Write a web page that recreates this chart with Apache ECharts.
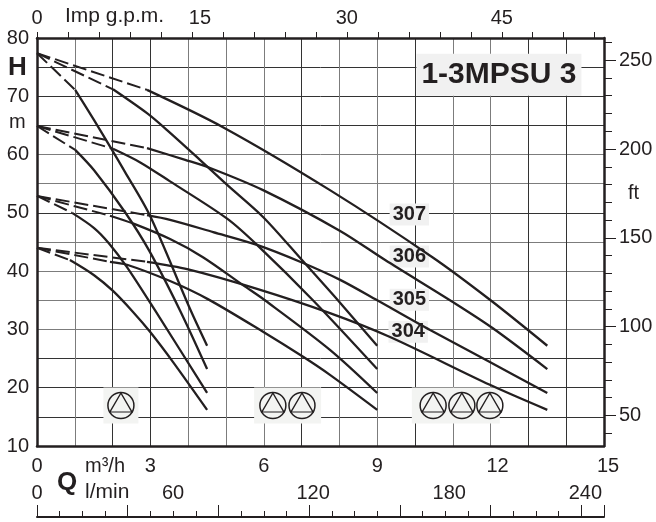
<!DOCTYPE html>
<html>
<head>
<meta charset="utf-8">
<title>1-3MPSU 3</title>
<script src="https://cdn.jsdelivr.net/npm/echarts@6/dist/echarts.min.js"></script>
<style>
  html, body { margin: 0; padding: 0; background: #fff; }
  #chart { width: 656px; height: 522px; }
</style>
</head>
<body>
<div id="chart"></div>
<script>
// pump curves, [Q m3/h, H m]. first segment of each one is the dashed part
const curve307_3 = [[0,77.4],[2.91,71.1],[4.92,64.7],[7.75,53.9],[10.48,42.3],[12,35.0],[13.5,27.2]];
const curve307_2 = [[0,77.4],[2.01,71.2],[2.91,67.1],[3.44,64.2],[4.31,59.1],[5.03,54.8],[5.98,49.3],[7.01,41.9],[7.96,35.0],[9,27.2]];
const curve307_1 = [[0,77.4],[1.01,71.1],[1.51,65.9],[2.33,57.0],[2.99,49.5],[4.05,33.5],[4.5,27.2]];
const curve306_3 = [[0,64.9],[2.91,61.1],[3.92,59.1],[4.58,57.7],[5.98,53.9],[8.02,46.9],[9.21,41.9],[11,34.7],[12.06,30.2],[13.5,23.2]];
const curve306_2 = [[0,64.9],[2.01,61],[2.72,58.7],[3.52,55.4],[5.03,49.0],[5.82,44.5],[7.30,35.0],[9,23.2]];
const curve306_1 = [[0,64.9],[1.01,60.8],[1.51,57.3],[2.33,50.1],[2.96,43.6],[3.78,33.3],[4.5,23.2]];
const curve305_3 = [[0,52.9],[2.91,49.6],[3.52,48.8],[4.66,46.7],[5.82,44.5],[7.04,41.4],[8.02,38.5],[9,35.0],[10.4,29.9],[11.98,24.4],[13.5,19.1]];
const curve305_2 = [[0,52.9],[1.93,49.5],[2.57,48.1],[3.52,45.5],[4.39,42.4],[5.45,37.6],[6.03,35],[7.75,26.5],[9,19.1]];
const curve305_1 = [[0,52.9],[0.93,50],[1.51,47.4],[1.90,44.8],[2.38,40.7],[3.12,33.3],[4.5,19.1]];
const curve304_3 = [[0,44],[2.91,41.6],[4.0,40.3],[5.8,37.0],[7.75,32.8],[9.34,28.7],[11.98,20.5],[13.5,16.2]];
const curve304_2 = [[0,44],[1.93,41.6],[2.38,41.1],[3.52,38.3],[4.52,35.2],[5.98,29.6],[7.04,25.3],[7.75,22.2],[9,16.2]];
const curve304_1 = [[0,44],[0.87,41.9],[1.51,39.3],[2.01,36.6],[2.54,33.0],[2.99,29.6],[3.6,24.4],[4.5,16.2]];

const curves = [
  curve307_3, curve307_2, curve307_1,
  curve306_3, curve306_2, curve306_1,
  curve305_3, curve305_2, curve305_1,
  curve304_3, curve304_2, curve304_1
];

// tags sitting on the chart
const modelNames = ['307', '306', '305', '304'];
const modelPoints = [[9.85,49.7],[9.85,42.5],[9.85,35.1],[9.82,29.6]];
const titleText = '1-3MPSU 3';
const titlePoint = [12.22,73.7];

// pump symbols
const pumpPoints = [[2.22,16.95],[6.24,16.95],[7.01,16.95],[10.48,16.95],[11.24,16.95],[11.98,16.95]];
const pumpBoxes = [[2.22,16.95],[6.63,16.95],[11.08,16.95]];
const pumpBoxWidths = [35, 67, 88];

// axis ticks
const feetMajor = [50,100,150,200,250];
const feetMinor = [40,50,60,70,80,90,100,110,120,130,140,150,160,170,180,190,200,210,220,230,240,250,260];
const gpmLabels = [0,15,30,45];
const m3hLabels = [0,3,6,9,12,15];
const lminLabels = [0,60,120,180,240];

const ink = '#231f20';
const dark = '#333';
const grey = '#7c7c7c';
const fontFamily = '"Liberation Sans", Arial, sans-serif';

// the scan prints its grid in uneven tones
const gridTonesQ = [dark, grey, dark, dark, grey, grey, grey, dark, grey, grey, dark, grey, grey, dark, dark, dark];
const gridTonesH = [dark, dark, dark, dark, grey, grey, grey, grey, dark, grey, grey, dark, dark, dark, dark];

// the printed numbers sit a bit off their ticks, shifted with a rich padding
const shifted = (value, shift) => {
  if (!shift) return String(value);
  return '{s' + shift + '|' + value + '}';
};
const richShift = {};
[8, 14, 16].forEach(s => {
  richShift['s' + s] = { padding: [0, 0, 0, s], fontSize: 20, color: ink, fontFamily };
});

const series = [];

// grey boxes behind the pump symbols
series.push({
  type: 'scatter', z: 1, silent: true,
  symbol: 'rect',
  symbolSize: (v, p) => [pumpBoxWidths[p.dataIndex], 36],
  itemStyle: { color: '#f3f4f2', opacity: 1 },
  data: pumpBoxes
});

series.push({
  type: 'scatter', z: 1, silent: true,
  symbol: 'triangle', symbolSize: [22, 19], symbolOffset: [0, -3],
  itemStyle: { color: 'rgba(0,0,0,0)', borderColor: ink, borderWidth: 1.3, opacity: 1 },
  data: pumpPoints
});
series.push({
  type: 'scatter', z: 1, silent: true,
  symbol: 'circle', symbolSize: 26,
  itemStyle: { color: 'rgba(0,0,0,0)', borderColor: ink, borderWidth: 1.5, opacity: 1 },
  data: pumpPoints
});

// model title and the 304..307 tags
series.push({
  type: 'scatter', z: 1, silent: true, symbolSize: 0,
  itemStyle: { opacity: 1 },
  label: {
    show: true, position: 'inside', formatter: titleText,
    fontFamily, fontWeight: 'bold', fontSize: 30, color: ink,
    backgroundColor: '#f1f1f1', padding: [8, 5, 4, 5]
  },
  data: [titlePoint]
});
series.push({
  type: 'scatter', z: 1, silent: true, symbolSize: 0,
  itemStyle: { opacity: 1 },
  label: {
    show: true, position: 'inside',
    formatter: p => modelNames[p.dataIndex],
    fontFamily, fontWeight: 'bold', fontSize: 20, color: ink,
    backgroundColor: '#f1f1f1', padding: [1, 3, 1, 3]
  },
  data: modelPoints
});

curves.forEach(curve => {
  series.push({
    type: 'line', z: 3, silent: true, showSymbol: false,
    lineStyle: { color: ink, width: 2, type: [14, 5] },
    data: curve.slice(0, 2)
  });
  series.push({
    type: 'line', z: 3, silent: true, showSymbol: false, smooth: 0.3,
    lineStyle: { color: ink, width: 2.3 },
    data: curve.slice(1)
  });
});

const chart = echarts.init(document.getElementById('chart'));

// same rectangle three times: a grid only takes one axis per side
const plotRect = { left: 37, right: 52, top: 38, bottom: 76 };

chart.setOption({
  animation: false,
  backgroundColor: '#fff',
  textStyle: { fontFamily },
  grid: [plotRect, plotRect, plotRect],
  xAxis: [
    {
      type: 'value', gridIndex: 0, position: 'bottom', min: 0, max: 15, interval: 1,
      axisLine: { onZero: false, lineStyle: { color: ink, width: 2.5 } },
      axisTick: { show: false },
      splitLine: { show: true, lineStyle: { color: gridTonesQ, width: 1 } },
      axisLabel: {
        margin: 10, fontSize: 20, color: ink, fontFamily, rich: richShift,
        showMinLabel: true, showMaxLabel: true,
        formatter: v => {
          if (!m3hLabels.includes(v)) return '';
          return shifted(v, v === 12 ? 14 : v === 15 ? 8 : 0);
        }
      }
    },
    {
      // imperial gallons along the top
      type: 'value', gridIndex: 0, position: 'top', min: 0, max: 54.9, interval: 3,
      axisLine: { onZero: false, lineStyle: { color: ink, width: 2.5 } },
      axisTick: { length: 6, lineStyle: { color: ink, width: 1 } },
      splitLine: { show: false },
      axisLabel: {
        margin: 10, fontSize: 20, color: ink, fontFamily, rich: richShift,
        showMaxLabel: false,
        formatter: v => gpmLabels.includes(v) ? shifted(v, v === 15 ? 16 : 0) : ''
      }
    },
    {
      // l/min ruler, ticks only
      type: 'value', gridIndex: 1, position: 'bottom', offset: 71, min: 0, max: 250, interval: 40,
      axisLine: { onZero: false, lineStyle: { color: ink, width: 2 } },
      axisTick: { inside: true, length: 12, lineStyle: { color: ink, width: 1 } },
      minorTick: { show: true, splitNumber: 4, length: 6, lineStyle: { color: ink, width: 1 } },
      splitLine: { show: false },
      axisLabel: { show: false }
    },
    {
      // l/min numbers, they go by 60 and the big ticks by 40
      type: 'value', gridIndex: 2, position: 'bottom', offset: 71, min: 0, max: 250, interval: 60,
      axisLine: { show: false, onZero: false },
      axisTick: { show: false },
      splitLine: { show: false },
      axisLabel: {
        inside: true, margin: 14, fontSize: 20, color: ink, fontFamily, rich: richShift,
        showMaxLabel: false,
        formatter: v => {
          if (!lminLabels.includes(v)) return '';
          return shifted(v, v === 0 || v === 60 ? 0 : 8);
        }
      }
    }
  ],
  yAxis: [
    {
      type: 'value', gridIndex: 0, position: 'left', min: 10, max: 80, interval: 5,
      axisLine: { show: true, onZero: false, lineStyle: { color: ink, width: 2.5 } },
      axisTick: { show: false },
      splitLine: { show: true, lineStyle: { color: gridTonesH, width: 1 } },
      axisLabel: {
        margin: 8, fontSize: 20, color: ink, fontFamily,
        formatter: v => v % 10 === 0 ? String(v) : ''
      }
    },
    {
      // feet, big ticks with numbers
      type: 'value', gridIndex: 0, position: 'right', min: 32.8, max: 262.5,
      axisLine: { show: true, onZero: false, lineStyle: { color: ink, width: 2.5 } },
      axisTick: { show: true, length: 12, customValues: feetMajor, lineStyle: { color: ink, width: 1 } },
      splitLine: { show: false },
      axisLabel: { margin: 15, fontSize: 20, color: ink, fontFamily, customValues: feetMajor }
    },
    {
      // feet, small ticks
      type: 'value', gridIndex: 1, position: 'right', min: 32.8, max: 262.5,
      axisLine: { show: false, onZero: false },
      axisTick: { show: true, length: 8, customValues: feetMinor, lineStyle: { color: ink, width: 1 } },
      splitLine: { show: false },
      axisLabel: { show: false }
    },
    {
      type: 'value', gridIndex: 2, show: false, min: 0, max: 1
    }
  ],
  series: series,
  graphic: [
    { type: 'text', left: 8, top: 55, style: { text: 'H', font: 'bold 26px ' + fontFamily, fill: ink } },
    { type: 'text', left: 9, top: 112, style: { text: 'm', font: '20px ' + fontFamily, fill: ink } },
    { type: 'text', left: 65, top: 6, style: { text: 'Imp g.p.m.', font: '21px ' + fontFamily, fill: ink } },
    { type: 'text', left: 628, top: 183, style: { text: 'ft', font: '20px ' + fontFamily, fill: ink } },
    { type: 'text', left: 57, top: 470, style: { text: 'Q', font: 'bold 26px ' + fontFamily, fill: ink } },
    { type: 'text', left: 85, top: 456, style: { text: 'm³/h', font: '20px ' + fontFamily, fill: ink } },
    { type: 'text', left: 85, top: 482, style: { text: 'l/min', font: '21px ' + fontFamily, fill: ink } }
  ]
});
</script>
</body>
</html>
